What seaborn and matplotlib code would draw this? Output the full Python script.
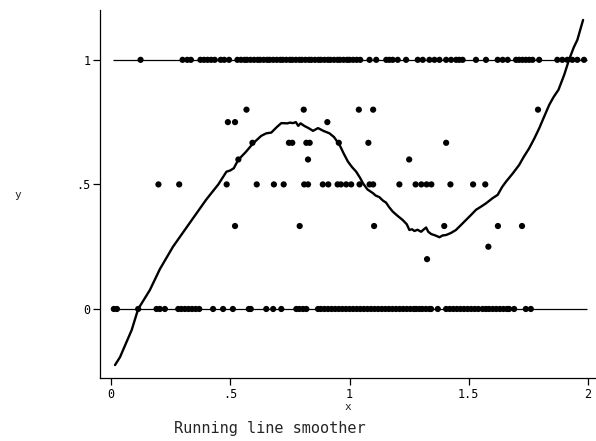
import matplotlib
matplotlib.use("Agg")
import matplotlib.pyplot as plt
import seaborn as sns
import pandas as pd

# y = 1 row
x_top = [0.124, 0.30, 0.32, 0.335, 0.375, 0.39, 0.405, 0.42, 0.435, 0.46, 0.475, 0.495,
         0.53, 0.545, 0.56, 0.57, 0.585, 0.60, 0.615, 0.625, 0.64, 0.655, 0.665, 0.68,
         0.695, 0.71, 0.72, 0.735, 0.75, 0.76, 0.775, 0.79, 0.80, 0.815, 0.83, 0.84,
         0.855, 0.87, 0.88, 0.895, 0.91, 0.92, 0.935, 0.95, 0.96, 0.975, 0.99, 1.00,
         1.015, 1.03, 1.045, 1.084, 1.112, 1.154, 1.167, 1.181, 1.202, 1.237, 1.286,
         1.307, 1.335, 1.356, 1.377, 1.405, 1.426, 1.447, 1.46, 1.474, 1.53, 1.572,
         1.621, 1.642, 1.663, 1.698, 1.711, 1.725, 1.739, 1.753, 1.767, 1.795, 1.871,
         1.892, 1.913, 1.934, 1.955, 1.983]

# y = 0 row
x_bot = [0.012, 0.025, 0.114, 0.191, 0.205, 0.226, 0.282, 0.295, 0.31, 0.325, 0.34,
         0.355, 0.37, 0.428, 0.47, 0.511, 0.578, 0.586, 0.651, 0.68, 0.714, 0.777,
         0.79, 0.805, 0.819, 0.868, 0.88, 0.895, 0.91, 0.925, 0.94, 0.955, 0.97,
         0.985, 1.0, 1.015, 1.03, 1.045, 1.06, 1.075, 1.09, 1.105, 1.12, 1.135, 1.15,
         1.165, 1.18, 1.195, 1.21, 1.225, 1.24, 1.255, 1.27, 1.279, 1.293, 1.305,
         1.32, 1.335, 1.342, 1.37, 1.405, 1.42, 1.435, 1.45, 1.465, 1.48, 1.495,
         1.51, 1.525, 1.54, 1.558, 1.572, 1.585, 1.6, 1.615, 1.63, 1.645, 1.66,
         1.669, 1.69, 1.739, 1.76]

# intermediate points
x_mid = [0.199, 0.286, 0.485, 0.49, 0.52, 0.52, 0.534, 0.568, 0.593, 0.611, 0.683,
         0.724, 0.746, 0.76, 0.791, 0.808, 0.81, 0.819, 0.826, 0.826, 0.833, 0.888,
         0.907, 0.911, 0.955, 0.95, 0.964, 0.986, 1.007, 1.039, 1.042, 1.079, 1.084,
         1.099, 1.099, 1.103, 1.209, 1.25, 1.277, 1.301, 1.323, 1.325, 1.343, 1.397,
         1.405, 1.423, 1.518, 1.569, 1.582, 1.622, 1.723, 1.79]
y_mid = [0.5, 0.5, 0.5, 0.75, 0.75, 0.333, 0.6, 0.8, 0.667, 0.5, 0.5,
         0.5, 0.667, 0.667, 0.333, 0.8, 0.5, 0.667, 0.6, 0.5, 0.667, 0.5,
         0.75, 0.5, 0.667, 0.5, 0.5, 0.5, 0.5, 0.8, 0.5, 0.667, 0.5,
         0.8, 0.5, 0.333, 0.5, 0.6, 0.5, 0.5, 0.5, 0.2, 0.5, 0.333,
         0.667, 0.5, 0.5, 0.5, 0.25, 0.333, 0.333, 0.8]

# running line smoother
x_smooth = [0.017, 0.038, 0.087, 0.114, 0.163, 0.205, 0.26, 0.324, 0.40, 0.45, 0.484,
            0.50, 0.515, 0.533, 0.565, 0.596, 0.63, 0.651, 0.672, 0.695, 0.714, 0.74,
            0.75, 0.763, 0.775, 0.785, 0.795, 0.81, 0.83, 0.847, 0.868, 0.89, 0.916,
            0.935, 0.958, 0.975, 0.993, 1.01, 1.028, 1.045, 1.056, 1.075, 1.098, 1.11,
            1.125, 1.14, 1.153, 1.165, 1.181, 1.20, 1.223, 1.24, 1.251, 1.262, 1.272,
            1.285, 1.3, 1.312, 1.321, 1.33, 1.342, 1.36, 1.377, 1.39, 1.405, 1.425,
            1.446, 1.465, 1.488, 1.51, 1.53, 1.55, 1.572, 1.6, 1.621, 1.64, 1.656,
            1.685, 1.711, 1.73, 1.753, 1.775, 1.795, 1.815, 1.837, 1.855, 1.876, 1.90,
            1.92, 1.94, 1.955, 1.979]
y_smooth = [-0.225, -0.193, -0.084, 0.0, 0.076, 0.16, 0.25, 0.337, 0.44, 0.50, 0.551,
            0.556, 0.565, 0.598, 0.63, 0.665, 0.695, 0.705, 0.708, 0.73, 0.746, 0.745,
            0.748, 0.746, 0.75, 0.735, 0.745, 0.735, 0.725, 0.715, 0.726, 0.715, 0.705,
            0.69, 0.659, 0.625, 0.592, 0.57, 0.551, 0.525, 0.505, 0.48, 0.465, 0.455,
            0.449, 0.435, 0.427, 0.41, 0.391, 0.375, 0.357, 0.34, 0.317, 0.32, 0.313,
            0.318, 0.31, 0.32, 0.327, 0.31, 0.301, 0.295, 0.288, 0.295, 0.297, 0.305,
            0.317, 0.335, 0.357, 0.378, 0.398, 0.41, 0.424, 0.445, 0.458, 0.49, 0.511,
            0.545, 0.578, 0.61, 0.645, 0.685, 0.725, 0.77, 0.819, 0.85, 0.88, 0.94,
            1.0, 1.05, 1.08, 1.16]

x_ticks = [0, 0.5, 1, 1.5, 2]
x_ticklabels = ["0", ".5", "1", "1.5", "2"]
y_ticks = [0, 0.5, 1]
y_ticklabels = ["0", ".5", "1"]

sns.set_style("ticks")
plt.rcParams["font.family"] = ["DejaVu Sans Mono", "DejaVu Sans"]

pts = pd.DataFrame({
    "x": x_top + x_bot + x_mid,
    "y": [1.0] * len(x_top) + [0.0] * len(x_bot) + y_mid,
})
smooth = pd.DataFrame({"x": x_smooth, "y": y_smooth})

fig = plt.figure(figsize=(5.96, 4.41), dpi=100)
ax = fig.add_axes([100 / 596, 1 - 378 / 441, 495 / 596, 368 / 441])

ax.hlines([0, 1], 0.008, 1.996, color="black", lw=0.9, zorder=1)
sns.scatterplot(data=pts, x="x", y="y", ax=ax, color="black", s=20,
                edgecolor="none", zorder=3, legend=False)
sns.lineplot(data=smooth, x="x", y="y", ax=ax, color="black", lw=1.7,
             sort=False, estimator=None, zorder=4)

ax.set_xlim(-0.046, 2.029)
ax.set_ylim(-0.277, 1.2)
ax.set_xticks(x_ticks)
ax.set_xticklabels(x_ticklabels)
ax.set_yticks(y_ticks)
ax.set_yticklabels(y_ticklabels)
ax.tick_params(axis="both", direction="out", length=5, width=0.9,
               labelsize=8.5, colors="black", pad=2)
for s in ["top", "right"]:
    ax.spines[s].set_visible(False)
for s in ["left", "bottom"]:
    ax.spines[s].set_linewidth(0.9)
    ax.spines[s].set_color("black")

ax.set_xlabel("x", fontsize=8, labelpad=1)
ax.set_ylabel("")
fig.text(18 / 596, 1 - 195 / 441, "y", fontsize=8, ha="center", va="center")
fig.text(270 / 596, 1 - 428 / 441, "Running line smoother", fontsize=11,
         ha="center", va="center")

fig.savefig("out.png", dpi=100)
